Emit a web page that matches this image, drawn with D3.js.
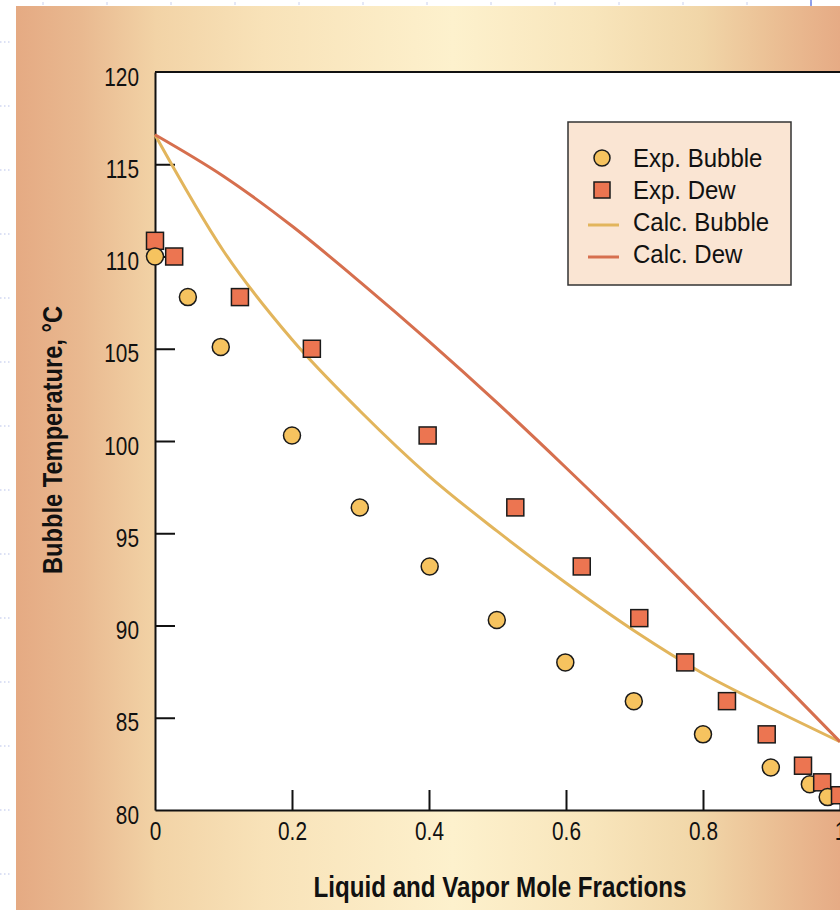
<!DOCTYPE html>
<html>
<head>
<meta charset="utf-8">
<script src="https://cdn.jsdelivr.net/npm/d3@7"></script>
<style>
  body { margin: 0; background: #fff; }
  svg { display: block; }
  text { font-family: "Liberation Sans", Arial, sans-serif; fill: #111; }
</style>
</head>
<body>
<div id="chart"></div>
<script>
// experimental points (mole fraction, temperature C)
var bubbleX = [0, 0.048, 0.096, 0.2, 0.299, 0.401, 0.499, 0.599, 0.699, 0.8, 0.899, 0.956, 0.982];
var bubbleT = [110.0, 107.8, 105.1, 100.3, 96.4, 93.2, 90.3, 88.0, 85.9, 84.1, 82.3, 81.4, 80.7];
var dewX = [0, 0.028, 0.124, 0.229, 0.398, 0.526, 0.623, 0.707, 0.774, 0.835, 0.893, 0.946, 0.974, 1.0];
var dewT = [110.85, 110.0, 107.8, 105.0, 100.3, 96.4, 93.2, 90.4, 88.0, 85.9, 84.1, 82.4, 81.5, 80.8];

// calculated curves
var calcX = [0, 0.1, 0.2, 0.3, 0.4, 0.5, 0.6, 0.7, 0.8, 0.9, 1.0];
var calcBubbleT = [116.6, 110.3, 105.5, 101.6, 98.1, 95.1, 92.3, 89.7, 87.4, 85.5, 83.7];
var calcDewT = [116.6, 114.35, 111.65, 108.6, 105.4, 102.05, 98.55, 94.95, 91.25, 87.5, 83.7];

var xTicks = [0, 0.2, 0.4, 0.6, 0.8, 1];
var yTicks = [80, 85, 90, 95, 100, 105, 110, 115, 120];
var legendLabels = ["Exp. Bubble", "Exp. Dew", "Calc. Bubble", "Calc. Dew"];

var width = 840, height = 910;
var colBubble = "#f6c35f", colDew = "#ec7551";
var colCalcBubble = "#e2b55c", colCalcDew = "#d66f4e";

// squeeze text horizontally to mimic the condensed face of the original
function condense(sel, f) {
  sel.each(function() {
    var w = this.getComputedTextLength();
    d3.select(this).attr("textLength", w * f).attr("lengthAdjust", "spacingAndGlyphs");
  });
}

var svg = d3.select("#chart").append("svg")
  .attr("width", width)
  .attr("height", height);

// background panel gradient
var grad = svg.append("defs").append("linearGradient")
  .attr("id", "bg").attr("x1", "0%").attr("x2", "100%").attr("y1", "0%").attr("y2", "0%");
[[0, "#e5aa83"], [0.08, "#e9b990"], [0.17, "#f2d3a6"], [0.3, "#f8e2b8"], [0.53, "#fdf1cd"],
 [0.7, "#f8e5bb"], [0.83, "#f1d6a8"], [0.92, "#ebbf94"], [1, "#e6ab85"]].forEach(function(s) {
  grad.append("stop").attr("offset", s[0]).attr("stop-color", s[1]);
});

svg.append("rect")
  .attr("x", 16).attr("y", 6)
  .attr("width", width - 16).attr("height", height - 6)
  .attr("fill", "url(#bg)");

// faint slide guide marks in the white margin
for (var gy = 42; gy < height; gy += 64) {
  svg.append("line").attr("x1", 0).attr("x2", 12).attr("y1", gy).attr("y2", gy)
    .attr("stroke", "#b9c3ea").attr("stroke-dasharray", "1.5,2.5");
}
for (var gx = 43; gx < width; gx += 64) {
  svg.append("line").attr("x1", gx).attr("x2", gx).attr("y1", 2).attr("y2", 5)
    .attr("stroke", "#c9d0ee");
}
svg.append("line").attr("x1", 811).attr("x2", 811).attr("y1", 0).attr("y2", 6)
  .attr("stroke", "#6f86e6").attr("stroke-width", 1.5);

var x = d3.scaleLinear().domain([0, 1]).range([155, 840]);
var y = d3.scaleLinear().domain([80, 120]).range([810, 72]);

// plot area
svg.append("rect")
  .attr("x", x(0)).attr("y", y(120))
  .attr("width", x(1) - x(0) + 10).attr("height", y(80) - y(120))
  .attr("fill", "#fff");

svg.append("line")
  .attr("x1", x(0)).attr("x2", width)
  .attr("y1", y(120)).attr("y2", y(120))
  .attr("stroke", "#111").attr("stroke-width", 2);

var leftAxis = d3.axisLeft(y).tickValues(yTicks)
  .tickSizeInner(-20).tickSizeOuter(0).tickPadding(16).tickFormat(d3.format("d"));
var bottomAxis = d3.axisBottom(x).tickValues(xTicks)
  .tickSizeInner(-20).tickSizeOuter(0).tickPadding(12).tickFormat(function(d) { return String(d); });

var gy1 = svg.append("g").attr("transform", "translate(" + x(0) + ",0)").call(leftAxis);
var gx1 = svg.append("g").attr("transform", "translate(0," + y(80) + ")").call(bottomAxis);

[gy1, gx1].forEach(function(g) {
  g.select(".domain").attr("stroke", "#111").attr("stroke-width", 2);
  g.selectAll(".tick line").attr("stroke", "#111").attr("stroke-width", 2);
  g.selectAll(".tick text").attr("font-size", 26)
    .attr("font-family", "Liberation Sans, Arial, sans-serif")
    .attr("fill", "#1a1a1a");
  condense(g.selectAll(".tick text"), 0.8);
});
gy1.selectAll(".tick text").attr("dy", "0.5em");
// hide the tick marks that sit on the other axis
gy1.selectAll(".tick line").filter(function(d) { return d === 80 || d === 120; }).remove();
gx1.selectAll(".tick line").filter(function(d) { return d === 0; }).remove();

// calculated curves
var line = d3.line().curve(d3.curveMonotoneX);
svg.append("path")
  .attr("d", line(calcX.map(function(v, i) { return [x(v), y(calcBubbleT[i])]; })))
  .attr("fill", "none").attr("stroke", colCalcBubble).attr("stroke-width", 3);
svg.append("path")
  .attr("d", line(calcX.map(function(v, i) { return [x(v), y(calcDewT[i])]; })))
  .attr("fill", "none").attr("stroke", colCalcDew).attr("stroke-width", 3);

// experimental markers, interleaved dew / bubble
var pts = [];
dewX.forEach(function(v, i) {
  pts.push({ type: "dew", x: v, t: dewT[i] });
  if (i < bubbleX.length) pts.push({ type: "bubble", x: bubbleX[i], t: bubbleT[i] });
});

var marks = svg.append("g");
pts.forEach(function(p) {
  if (p.type === "bubble") {
    marks.append("circle")
      .attr("cx", x(p.x)).attr("cy", y(p.t)).attr("r", 8.5)
      .attr("fill", colBubble).attr("stroke", "#1a1a1a").attr("stroke-width", 1.5);
  } else {
    marks.append("rect")
      .attr("x", x(p.x) - 8.5).attr("y", y(p.t) - 8.5)
      .attr("width", 17).attr("height", 17)
      .attr("fill", colDew).attr("stroke", "#1a1a1a").attr("stroke-width", 1.5);
  }
});

// legend
var lg = svg.append("g");
lg.append("rect")
  .attr("x", 568).attr("y", 122).attr("width", 223).attr("height", 163)
  .attr("fill", "#fae5d3").attr("stroke", "#333").attr("stroke-width", 1.5);

var rowY = [158, 190, 222, 254];
lg.append("circle").attr("cx", 602).attr("cy", rowY[0]).attr("r", 8)
  .attr("fill", colBubble).attr("stroke", "#1a1a1a").attr("stroke-width", 1.5);
lg.append("rect").attr("x", 594).attr("y", rowY[1] - 8).attr("width", 16).attr("height", 16)
  .attr("fill", colDew).attr("stroke", "#1a1a1a").attr("stroke-width", 1.5);
lg.append("line").attr("x1", 588).attr("x2", 619).attr("y1", rowY[2] + 3).attr("y2", rowY[2] + 3)
  .attr("stroke", colCalcBubble).attr("stroke-width", 3);
lg.append("line").attr("x1", 588).attr("x2", 619).attr("y1", rowY[3] + 3).attr("y2", rowY[3] + 3)
  .attr("stroke", colCalcDew).attr("stroke-width", 3);

lg.selectAll("text.leg")
  .data(legendLabels)
  .enter().append("text")
  .attr("class", "leg")
  .attr("x", 633)
  .attr("y", function(d, i) { return rowY[i]; })
  .attr("dy", "0.36em")
  .attr("font-size", 25)
  .attr("fill", "#1a1a1a")
  .text(function(d) { return d; });
condense(lg.selectAll("text.leg"), 0.96);

// axis titles
svg.append("text")
  .attr("x", 500).attr("y", 897)
  .attr("text-anchor", "middle")
  .attr("font-size", 29).attr("font-weight", "bold")
  .attr("textLength", 373).attr("lengthAdjust", "spacingAndGlyphs")
  .text("Liquid and Vapor Mole Fractions");

svg.append("text")
  .attr("transform", "translate(62,440) rotate(-90)")
  .attr("text-anchor", "middle")
  .attr("font-size", 28).attr("font-weight", "bold")
  .attr("textLength", 268).attr("lengthAdjust", "spacingAndGlyphs")
  .text("Bubble Temperature, \u00B0C");
</script>
</body>
</html>
